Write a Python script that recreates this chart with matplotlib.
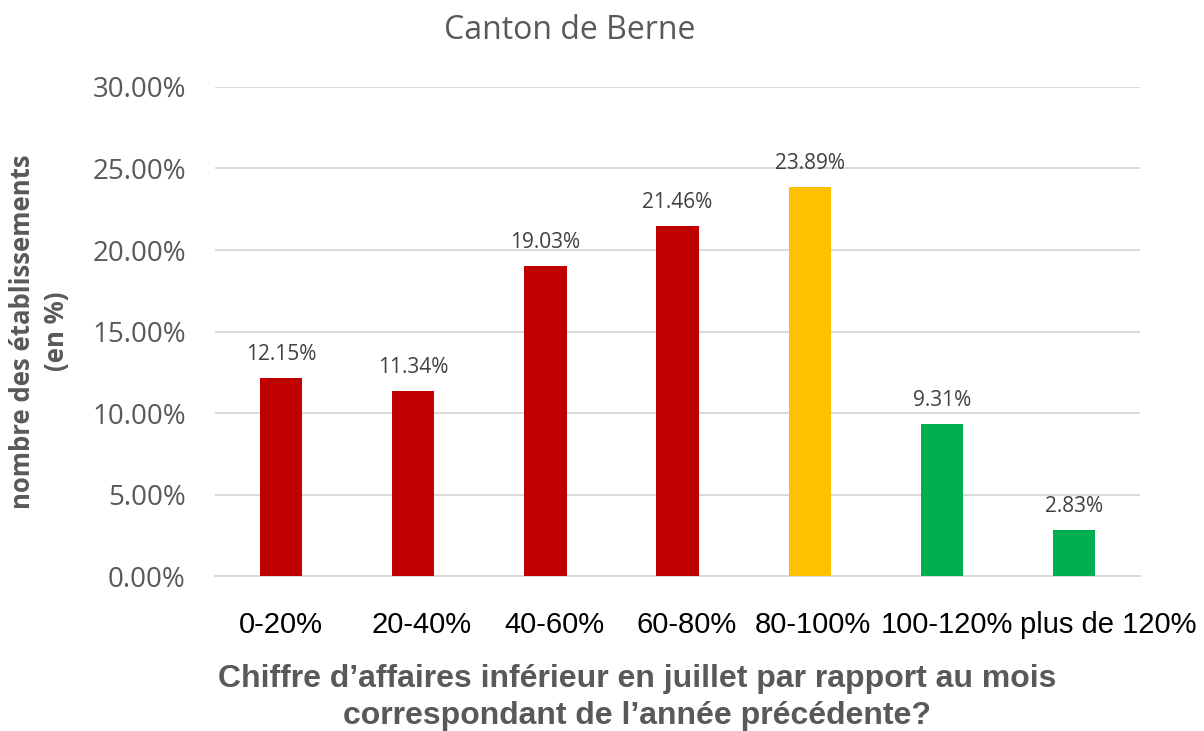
import matplotlib.pyplot as plt
from matplotlib.ticker import FuncFormatter
from matplotlib.transforms import ScaledTranslation

categories = ["0-20%", "20-40%", "40-60%", "60-80%", "80-100%", "100-120%", "plus de 120%"]
shares = [12.15, 11.34, 19.03, 21.46, 23.89, 9.31, 2.83]
bar_colors = ["#C00000", "#C00000", "#C00000", "#C00000", "#FFC000", "#00B050", "#00B050"]
y_ticks = [0, 5, 10, 15, 20, 25, 30]
# small horizontal nudges (in pixels) of the category labels, as laid out in the original
label_nudge = [0, 8, 9, 9, 3, 5, 34]


def main() -> None:
    fig = plt.figure(figsize=(12.04, 7.31), dpi=100)
    ax = fig.add_axes([0.1786, 0.212, 0.7684, 0.669])

    x = range(len(categories))
    ax.bar(x, shares, width=0.32, color=bar_colors, zorder=3)
    for i, v in zip(x, shares):
        ax.text(i, v + 0.8, f"{v:.2f}%", ha="center", va="bottom",
                fontsize=15, color="#404040", family="Open Sans")

    ax.set_xlim(-0.5, len(categories) - 0.5)
    ax.set_ylim(0, 30)
    ax.set_yticks(y_ticks)
    ax.yaxis.set_major_formatter(FuncFormatter(lambda v, _: f"{v:.2f}%"))
    ax.grid(axis="y", color="#d9d9d9", linewidth=1.4, zorder=0)
    for s in ["top", "right", "left"]:
        ax.spines[s].set_visible(False)
    ax.spines["bottom"].set_color("#d9d9d9")
    ax.spines["bottom"].set_linewidth(1.4)
    ax.tick_params(axis="both", length=0)
    ax.tick_params(axis="y", pad=21)
    ax.tick_params(axis="x", pad=25)
    for lbl in ax.get_yticklabels():
        lbl.set_family("Open Sans")
        lbl.set_fontsize(20)
        lbl.set_color("#595959")
    ax.set_xticks(list(x))
    ax.set_xticklabels(categories, family="Liberation Sans", fontsize=21, color="black")
    for lbl, dx in zip(ax.get_xticklabels(), label_nudge):
        lbl.set_transform(lbl.get_transform() + ScaledTranslation(dx / 100, 0, fig.dpi_scale_trans))

    ax.set_ylabel("nombre des établissements\n(en %)", family="Open Sans", fontweight="bold",
                  fontsize=18.5, color="#595959", labelpad=16, linespacing=1.35)

    fig.text(0.529, 0.046,
             "Chiffre d’affaires inférieur en juillet par rapport au mois\ncorrespondant de l’année précédente?",
             ha="center", va="center", family="Liberation Sans", fontweight="bold",
             fontsize=23, color="#595959", linespacing=1.3)

    fig.text(0.473, 0.958, "Canton de Berne", ha="center", va="center",
             family="Open Sans", fontsize=23, color="#595959")

    fig.savefig("out.png", dpi=100, facecolor="white")


if __name__ == "__main__":
    main()
